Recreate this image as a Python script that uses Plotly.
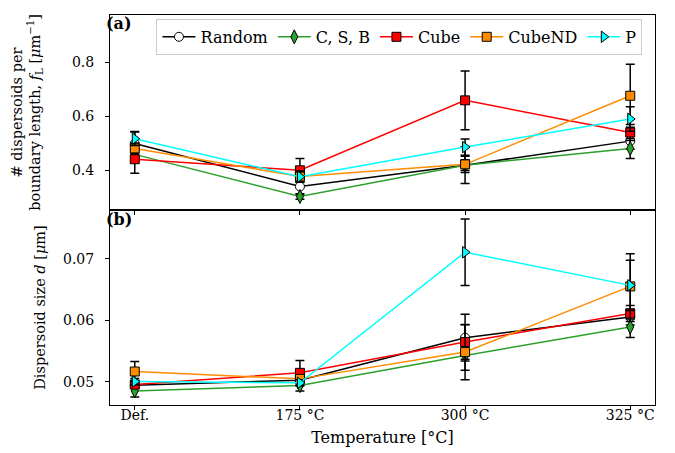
import plotly.graph_objects as go
from plotly.subplots import make_subplots

temps = ["Def.", "175 °C", "300 °C", "325 °C"]
series = ["Random", "C, S, B", "Cube", "CubeND", "P"]

# (a) dispersoids per boundary length f_L [um^-1]
random_fl = [0.500, 0.341, 0.420, 0.509]
csb_fl = [0.460, 0.304, 0.420, 0.482]
cube_fl = [0.442, 0.401, 0.660, 0.541]
cubend_fl = [0.482, 0.378, 0.423, 0.677]
p_fl = [0.518, 0.377, 0.487, 0.591]

random_fl_err = [0.045, 0.030, 0.068, 0.030]
csb_fl_err = [0.015, 0.010, 0.020, 0.037]
cube_fl_err = [0.052, 0.044, 0.109, 0.030]
cubend_fl_err = [0.020, 0.020, 0.030, 0.117]
p_fl_err = [0.025, 0.020, 0.030, 0.045]

# (b) dispersoid size d [um]
random_d = [0.04946, 0.05027, 0.05719, 0.06057]
csb_d = [0.04853, 0.04940, 0.05430, 0.05894]
cube_d = [0.04956, 0.05147, 0.05649, 0.06112]
cubend_d = [0.05169, 0.05049, 0.05485, 0.06553]
p_d = [0.05005, 0.04984, 0.07109, 0.06570]

random_d_err = [0.0005, 0.0006, 0.0038, 0.0013]
csb_d_err = [0.0010, 0.0009, 0.0024, 0.0017]
cube_d_err = [0.0006, 0.0020, 0.0028, 0.0013]
cubend_d_err = [0.00163, 0.0005, 0.0045, 0.0053]
p_d_err = [0.0005, 0.0005, 0.0054, 0.0041]

styles = {
    "Random": dict(line="black", fill="white", symbol="circle", size=9),
    "C, S, B": dict(line="#2ca02c", fill="#2ca02c", symbol="diamond-tall", size=10),
    "Cube": dict(line="red", fill="red", symbol="square", size=9),
    "CubeND": dict(line="darkorange", fill="darkorange", symbol="square", size=9),
    "P": dict(line="cyan", fill="cyan", symbol="triangle-right", size=10),
}

top_vals = [random_fl, csb_fl, cube_fl, cubend_fl, p_fl]
top_errs = [random_fl_err, csb_fl_err, cube_fl_err, cubend_fl_err, p_fl_err]
bot_vals = [random_d, csb_d, cube_d, cubend_d, p_d]
bot_errs = [random_d_err, csb_d_err, cube_d_err, cubend_d_err, p_d_err]

FONT = "DejaVu Serif"
FS_TICK = 14
FS_YT = 14.5
FS = 16

fig = make_subplots(rows=2, cols=1, shared_xaxes=True, vertical_spacing=0)

xi = list(range(len(temps)))
for row, vals, errs in [(1, top_vals, top_errs), (2, bot_vals, bot_errs)]:
    for name, v, e in zip(series, vals, errs):
        st = styles[name]
        fig.add_trace(go.Scatter(
            x=xi, y=v, name=name, mode="lines+markers",
            showlegend=(row == 1),
            line=dict(color=st["line"], width=1.5),
            marker=dict(symbol=st["symbol"], size=st["size"], color=st["fill"],
                        line=dict(color="black", width=1)),
            error_y=dict(type="data", array=e, color="black", thickness=1.5, width=4.5),
        ), row=row, col=1)

axis_common = dict(showline=True, linecolor="black", linewidth=1, mirror=True,
                   ticks="outside", ticklen=4, tickcolor="black", showgrid=False,
                   zeroline=False, tickfont=dict(family=FONT, size=FS_TICK, color="black"))

fig.update_xaxes(**axis_common, range=[-0.15, 3.15], tickvals=xi, ticktext=temps)
fig.update_xaxes(showticklabels=False, row=1, col=1)
fig.update_xaxes(title=dict(text="Temperature [°C]", font=dict(family=FONT, size=FS, color="black"),
                            standoff=10), ticklabelstandoff=-7, row=2, col=1)
fig.update_yaxes(**axis_common, ticklabelstandoff=8)
fig.update_yaxes(range=[0.254, 0.976], tickvals=[0.4, 0.6, 0.8], ticktext=["0.4", "0.6", "0.8"],
                 title=dict(text="# dispersoids per<br>boundary length, <i>f</i><sub>L</sub> [<i>μ</i>m<sup>−1</sup>]",
                            font=dict(family=FONT, size=FS_YT, color="black"), standoff=27),
                 row=1, col=1)
fig.update_yaxes(range=[0.04624, 0.07796], tickvals=[0.05, 0.06, 0.07], ticktext=["0.05", "0.06", "0.07"],
                 title=dict(text="Dispersoid size <i>d</i> [<i>μ</i>m]",
                            font=dict(family=FONT, size=FS_YT, color="black"), standoff=13),
                 row=2, col=1)

fig.add_annotation(text="<b>(a)</b>", xref="x domain", yref="y domain", x=0.0, y=1.0,
                   xanchor="left", yanchor="top", showarrow=False, xshift=-6, yshift=3,
                   font=dict(family=FONT, size=16, color="black"), row=1, col=1)
fig.add_annotation(text="<b>(b)</b>", xref="x2 domain", yref="y2 domain", x=0.0, y=1.0,
                   xanchor="left", yanchor="top", showarrow=False, xshift=-6, yshift=2,
                   font=dict(family=FONT, size=16, color="black"), row=2, col=1)

fig.update_layout(
    width=675, height=453,
    margin=dict(l=101.5, r=28, t=7, b=56),
    paper_bgcolor="white", plot_bgcolor="white",
    font=dict(family=FONT, size=FS, color="black"),
    legend=dict(orientation="h", x=0.977, y=0.99, xref="paper", yref="paper",
                xanchor="right", yanchor="top",
                bgcolor="rgba(255,255,255,0.8)", bordercolor="#cccccc", borderwidth=1,
                font=dict(family=FONT, size=FS, color="black"),
                itemwidth=33, tracegroupgap=0),
)

fig.write_html("out.html")
